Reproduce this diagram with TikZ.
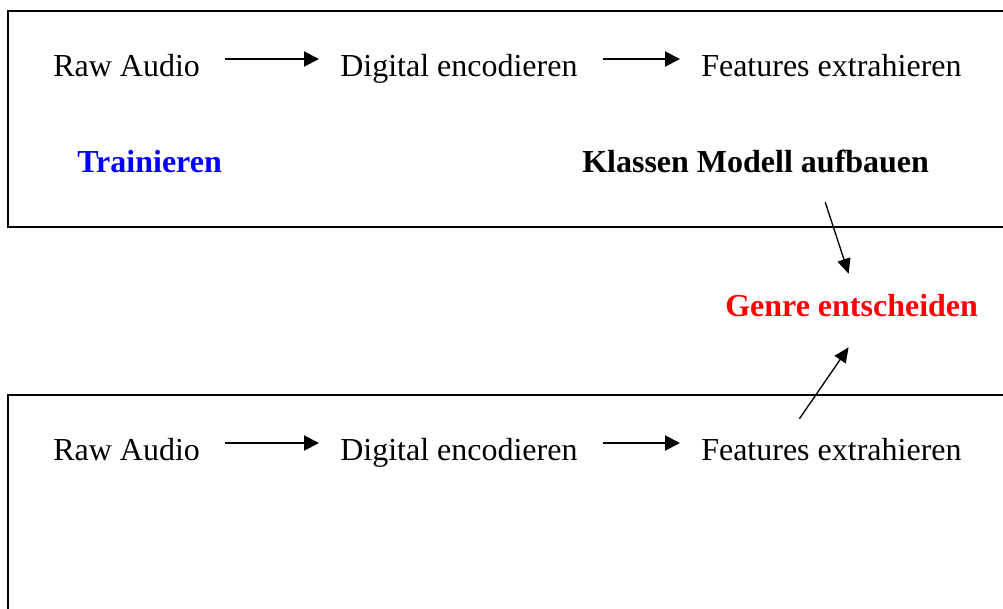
\documentclass[tikz,border=0pt]{standalone}
\usepackage{fontspec}
\setmainfont{Liberation Serif}
\usetikzlibrary{arrows.meta}
\definecolor{trainblue}{RGB}{0,0,255}
\definecolor{genrered}{RGB}{255,0,0}
\tikzset{
  frame/.style={line width=1.5pt, line cap=rect},
  lbl/.style={inner sep=0pt, anchor=base west, text height=25.5pt, text depth=0pt,
              font=\fontsize{24}{28}\selectfont},
  boldlbl/.style={lbl, font=\fontsize{24}{28}\selectfont\bfseries},
  flow/.style={line width=1.5pt, -{Triangle[length=11.25pt,width=11.25pt]},
               shorten <=18.75pt, shorten >=15.75pt},
  link/.style={line width=1pt, -{Triangle[length=11.25pt,width=10pt]}}
}
\begin{document}
\begin{tikzpicture}[x=0.75pt,y=-0.75pt]
  \useasboundingbox (0,0) rectangle (1003,608);
  \clip (0,0) rectangle (1003,608);

  % training frame (open on the right)
  \draw[frame] (1020,11) -- (7.5,11) -- (7.5,227) -- (1020,227);
  % classification frame (open on the right and bottom)
  \draw[frame] (1020,395) -- (7.5,395) -- (7.5,620);

  % training pipeline
  \node[lbl] (rawA) at (53,76) {Raw Audio};
  \node[lbl] (digA) at (340,76) {Digital encodieren};
  \node[lbl] (feaA) at (701,76) {Features extrahieren};
  \draw[flow] (rawA.east) -- (digA.west);
  \draw[flow] (digA.east) -- (feaA.west);

  \node[boldlbl, text=trainblue] (train) at (77,172) {Trainieren};
  \node[boldlbl] (model) at (582,172) {Klassen Modell aufbauen};

  % decision
  \node[boldlbl, text=genrered] (genre) at (725,316) {Genre entscheiden};

  % classification pipeline
  \node[lbl] (rawB) at (53,460) {Raw Audio};
  \node[lbl] (digB) at (340,460) {Digital encodieren};
  \node[lbl] (feaB) at (701,460) {Features extrahieren};
  \draw[flow] (rawB.east) -- (digB.west);
  \draw[flow] (digB.east) -- (feaB.west);

  % model and features feed the genre decision
  \draw[link] ([shift={(-104,30)}]model.south east) -- ([shift={(-3,-8)}]genre.north);
  \draw[link] ([shift={(-32,-7)}]feaB.north) -- ([shift={(-3,31)}]genre.south);
\end{tikzpicture}
\end{document}
